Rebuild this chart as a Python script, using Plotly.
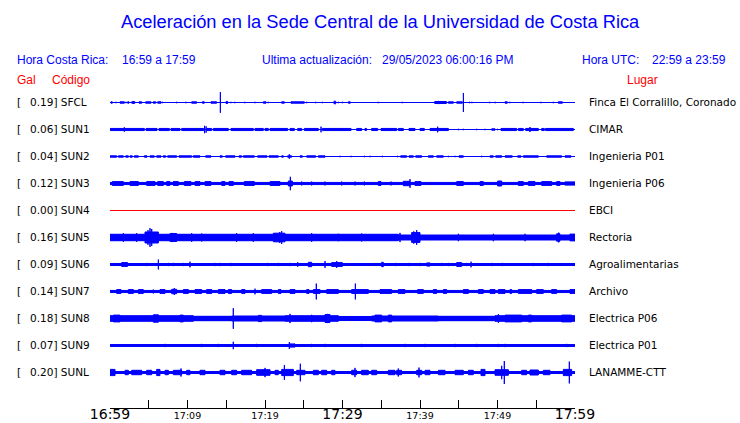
import plotly.graph_objects as go

# ---------------- data ----------------
codes = ["SFCL", "SUN1", "SUN2", "SUN3", "SUN4", "SUN5", "SUN6", "SUN7", "SUN8", "SUN9", "SUNL"]
places = ["Finca El Corralillo, Coronado", "CIMAR", "Ingenieria P01", "Ingenieria P06", "EBCI",
          "Rectoria", "Agroalimentarias", "Archivo", "Electrica P06", "Electrica P01", "LANAMME-CTT"]
gal = [0.19, 0.06, 0.04, 0.12, 0.00, 0.16, 0.09, 0.14, 0.18, 0.07, 0.20]
trace_colors = ["blue", "blue", "blue", "blue", "red", "blue", "blue", "blue", "blue", "blue", "blue"]

# continuous background amplitude of each record (Gal, half width)
base_amp = [0.0, 0.0, 0.0, 0.026, 0.0, 0.05, 0.025, 0.026, 0.04, 0.024, 0.025]

# bursts: [start minute, end minute, half amplitude in Gal] (minutes after 16:59)
sfcl = [[0.13, 0.3, 0.02], [0.77, 0.77, 0.02], [1.29, 1.85, 0.02], [2.06, 2.06, 0.02], [2.28, 2.45, 0.02],
        [2.8, 3.23, 0.02], [3.0, 3.0, 0.03], [3.74, 4.09, 0.02], [4.6, 5.29, 0.02], [5.59, 5.89, 0.02],
        [6.15, 6.58, 0.02], [6.75, 6.75, 0.02], [8.6, 8.6, 0.02], [9.8, 9.8, 0.02], [10.54, 11.18, 0.02],
        [11.91, 12.17, 0.02], [13.03, 13.76, 0.02], [14.24, 14.24, 0.18], [14.97, 15.18, 0.025],
        [15.6, 15.6, 0.02], [16.1, 16.1, 0.02], [17.4, 17.4, 0.02], [18.7, 18.7, 0.02], [19.78, 20.13, 0.02],
        [20.4, 20.4, 0.02], [22.15, 22.5, 0.02], [23.35, 25.08, 0.02], [25.38, 25.38, 0.02],
        [26.54, 26.54, 0.02], [27.4, 27.4, 0.02], [28.9, 29.12, 0.03], [29.46, 29.46, 0.02],
        [29.98, 29.98, 0.02], [30.75, 31.0, 0.02], [34.6, 34.6, 0.02], [37.7, 37.7, 0.02],
        [41.9, 43.4, 0.025], [42.4, 42.4, 0.035], [43.66, 44.3, 0.02], [44.73, 45.46, 0.02],
        [45.6, 45.6, 0.167], [46.4, 46.4, 0.02], [46.7, 46.7, 0.02], [49.0, 49.0, 0.02], [49.7, 49.7, 0.02],
        [50.97, 51.27, 0.02], [51.6, 51.6, 0.02], [53.3, 53.3, 0.02], [55.6, 55.6, 0.02],
        [57.2, 57.2, 0.02], [57.85, 58.37, 0.02]]

sun1 = [[0.0, 4.43, 0.026], [4.65, 6.06, 0.026], [6.32, 7.66, 0.026], [7.87, 9.03, 0.026],
        [9.25, 12.09, 0.026], [12.47, 13.12, 0.026], [13.33, 15.27, 0.026], [15.61, 18.49, 0.026],
        [18.71, 19.78, 0.026], [20.0, 20.43, 0.026], [20.65, 22.92, 0.026], [23.23, 23.78, 0.026],
        [24.22, 24.73, 0.026], [25.08, 26.88, 0.026], [27.4, 31.1, 0.026], [31.83, 32.47, 0.026],
        [32.9, 33.1, 0.026], [33.76, 34.54, 0.026], [34.97, 36.99, 0.026], [37.2, 37.85, 0.026],
        [38.58, 39.35, 0.026], [40.0, 40.56, 0.026], [41.29, 43.66, 0.026], [44.95, 44.95, 0.02],
        [45.59, 45.59, 0.02], [47.31, 47.31, 0.02], [48.39, 48.39, 0.02], [49.25, 49.68, 0.02],
        [50.0, 50.0, 0.02], [50.45, 52.47, 0.026], [52.69, 53.33, 0.026], [53.63, 55.27, 0.026],
        [55.7, 56.04, 0.026], [56.2, 59.78, 0.026],
        [1.85, 1.85, 0.045], [12.2, 12.2, 0.07], [12.4, 12.4, 0.06], [27.23, 27.23, 0.055],
        [42.28, 42.28, 0.055], [54.19, 54.19, 0.05]]

sun2 = [[0.0, 0.86, 0.02], [1.08, 1.72, 0.02], [2.02, 2.37, 0.02], [2.58, 2.88, 0.02], [3.14, 3.66, 0.02],
        [4.43, 4.77, 0.02], [5.16, 5.72, 0.02], [6.02, 6.58, 0.02], [6.88, 7.18, 0.02], [7.44, 8.6, 0.02],
        [8.9, 10.54, 0.02], [10.75, 11.61, 0.02], [12.34, 13.03, 0.02], [14.19, 14.49, 0.02],
        [14.92, 16.13, 0.02], [16.65, 16.99, 0.02], [17.2, 18.62, 0.02], [19.05, 20.26, 0.02],
        [20.52, 21.72, 0.02], [22.15, 22.37, 0.02], [22.92, 23.44, 0.02], [23.14, 23.14, 0.045],
        [24.52, 24.82, 0.02], [25.38, 26.54, 0.02], [26.88, 27.74, 0.02], [29.68, 29.68, 0.02],
        [31.1, 31.1, 0.02], [32.82, 32.82, 0.02], [33.55, 33.55, 0.02], [35.14, 35.14, 0.02],
        [37.12, 37.12, 0.02], [37.5, 38.28, 0.02], [38.58, 39.14, 0.02], [39.44, 40.22, 0.02],
        [41.08, 41.72, 0.02], [42.15, 43.01, 0.02], [43.66, 43.66, 0.02], [44.52, 44.52, 0.02],
        [45.03, 45.59, 0.02], [47.96, 47.96, 0.02], [49.03, 49.46, 0.02], [49.76, 50.54, 0.02],
        [50.97, 51.91, 0.02], [52.6, 53.03, 0.02], [53.33, 55.27, 0.02], [56.34, 58.28, 0.02],
        [58.71, 59.48, 0.02]]

sun3 = [[0.3, 1.72, 0.04], [2.58, 3.66, 0.04], [4.73, 5.81, 0.04], [6.15, 6.88, 0.04], [7.31, 7.74, 0.04],
        [8.17, 8.82, 0.04], [9.59, 10.45, 0.04], [10.97, 11.61, 0.04], [12.26, 13.03, 0.04],
        [14.41, 14.84, 0.04], [15.35, 15.91, 0.04], [17.33, 18.62, 0.04], [20.65, 21.94, 0.04],
        [23.01, 23.53, 0.05], [23.27, 23.27, 0.12], [24.73, 24.73, 0.04], [26.02, 26.02, 0.04],
        [27.74, 27.74, 0.04], [29.89, 29.89, 0.04], [31.61, 31.61, 0.04], [32.82, 32.82, 0.04],
        [34.62, 34.97, 0.04], [36.26, 36.26, 0.04], [37.85, 38.71, 0.045], [38.71, 38.71, 0.08],
        [39.35, 40.13, 0.04], [44.73, 45.59, 0.04], [47.74, 48.17, 0.04], [50.02, 50.54, 0.05],
        [52.69, 53.33, 0.04], [53.98, 54.84, 0.04], [55.7, 56.99, 0.04], [57.63, 58.06, 0.04],
        [58.71, 60.0, 0.035]]

sun4 = []

sun5 = [[0.0, 37.2, 0.062], [1.72, 1.72, 0.08], [3.44, 3.44, 0.08], [4.52, 6.24, 0.1],
        [5.16, 5.16, 0.165], [5.38, 5.38, 0.15], [4.9, 4.9, 0.13], [7.74, 8.6, 0.075], [8.0, 8.0, 0.085],
        [10.54, 10.54, 0.08], [11.83, 11.83, 0.075], [16.34, 16.34, 0.08], [18.49, 18.49, 0.08],
        [21.08, 22.58, 0.08], [22.15, 22.15, 0.115], [21.9, 21.9, 0.1], [26.02, 26.02, 0.08],
        [29.46, 29.46, 0.07], [32.47, 32.47, 0.075], [37.42, 37.42, 0.085], [38.92, 40.0, 0.09],
        [39.57, 39.57, 0.13], [39.2, 39.2, 0.11], [44.95, 44.95, 0.07], [49.46, 49.46, 0.07],
        [53.55, 53.55, 0.07], [57.63, 58.06, 0.07], [57.9, 57.9, 0.09], [59.35, 60.0, 0.065]]

sun6 = [[1.5, 2.28, 0.04], [4.73, 4.73, 0.035], [6.24, 6.24, 0.09], [7.53, 7.53, 0.035], [8.17, 8.17, 0.035],
        [9.46, 9.46, 0.035], [10.32, 10.32, 0.055], [13.55, 13.55, 0.035], [14.19, 14.19, 0.035],
        [15.61, 15.61, 0.035], [20.34, 20.34, 0.035], [21.72, 21.72, 0.035], [23.23, 23.23, 0.035],
        [24.22, 24.22, 0.045], [25.59, 26.02, 0.045], [27.74, 27.74, 0.065], [28.6, 29.98, 0.04],
        [29.25, 29.25, 0.065], [35.05, 35.27, 0.045], [36.86, 36.86, 0.035], [38.58, 38.58, 0.035],
        [40.0, 40.0, 0.035], [40.86, 41.29, 0.035], [42.8, 42.8, 0.035], [43.66, 43.66, 0.035],
        [44.73, 45.38, 0.04], [46.02, 46.02, 0.035], [46.58, 46.58, 0.055], [49.25, 49.25, 0.035],
        [50.62, 50.62, 0.035], [54.62, 54.62, 0.035], [56.56, 56.56, 0.035]]

sun7 = [[0.86, 1.42, 0.04], [2.37, 3.01, 0.04], [3.66, 4.3, 0.04], [5.59, 5.59, 0.04], [6.45, 7.1, 0.04],
        [7.96, 8.6, 0.045], [8.3, 8.3, 0.065], [9.46, 10.11, 0.04], [10.97, 11.83, 0.04],
        [12.47, 13.12, 0.04], [13.98, 14.84, 0.04], [15.27, 15.7, 0.04], [16.99, 17.42, 0.04],
        [18.71, 18.71, 0.055], [19.57, 20.86, 0.04], [21.72, 22.06, 0.04], [23.23, 23.87, 0.04],
        [25.38, 25.68, 0.04], [26.24, 27.1, 0.04], [26.62, 26.62, 0.14], [27.96, 29.46, 0.04],
        [31.18, 33.33, 0.04], [31.66, 31.66, 0.14], [34.84, 36.34, 0.04], [37.2, 38.06, 0.04],
        [39.7, 40.43, 0.04], [41.72, 42.15, 0.04], [43.01, 43.44, 0.04], [45.59, 46.24, 0.04],
        [47.53, 48.17, 0.04], [49.03, 49.68, 0.04], [50.11, 50.97, 0.04], [51.61, 51.83, 0.04],
        [52.69, 54.41, 0.04], [55.05, 55.91, 0.04], [56.99, 57.63, 0.04], [59.35, 60.0, 0.04]]

sun8 = [[0.0, 10.75, 0.055], [10.75, 15.7, 0.045], [15.7, 22.58, 0.05], [22.58, 29.46, 0.055],
        [29.46, 33.76, 0.042], [33.76, 42.37, 0.05], [42.37, 49.68, 0.045], [49.68, 60.0, 0.055],
        [0.43, 1.29, 0.065], [5.59, 6.24, 0.07], [9.03, 9.46, 0.065], [15.91, 15.91, 0.18],
        [19.14, 19.57, 0.06], [23.23, 23.23, 0.085], [26.02, 26.02, 0.07], [27.74, 28.39, 0.075],
        [28.09, 28.09, 0.085], [34.19, 35.05, 0.065], [35.91, 36.34, 0.065], [50.11, 50.11, 0.08],
        [50.97, 53.12, 0.065], [53.98, 54.41, 0.065], [58.28, 59.57, 0.065]]

sun9 = [[7.1, 7.1, 0.035], [11.83, 11.83, 0.035], [13.98, 13.98, 0.035], [15.91, 15.91, 0.07],
        [18.92, 18.92, 0.035], [23.14, 23.14, 0.065], [23.23, 23.87, 0.035], [26.02, 26.02, 0.035],
        [27.74, 27.74, 0.035], [32.47, 32.47, 0.035], [38.06, 38.06, 0.035], [40.65, 40.65, 0.035],
        [44.52, 44.52, 0.035], [47.31, 47.31, 0.035], [50.11, 50.11, 0.035], [50.97, 50.97, 0.035],
        [58.92, 58.92, 0.035]]

sunl = [[0.0, 0.65, 0.06], [1.94, 2.37, 0.045], [2.8, 4.09, 0.045], [4.73, 5.38, 0.045], [6.02, 6.45, 0.06],
        [7.1, 7.53, 0.045], [8.17, 9.25, 0.045], [9.16, 9.16, 0.075], [9.89, 10.32, 0.045],
        [11.61, 12.26, 0.045], [14.19, 14.84, 0.045], [15.7, 16.34, 0.045], [16.99, 18.28, 0.045],
        [18.92, 20.65, 0.055], [20.0, 20.0, 0.085], [21.29, 21.72, 0.045], [22.15, 23.66, 0.06],
        [22.5, 22.5, 0.13], [24.09, 25.16, 0.045], [24.56, 24.56, 0.155], [26.24, 26.88, 0.045],
        [27.31, 27.96, 0.045], [28.6, 29.03, 0.045], [31.18, 31.83, 0.045], [31.61, 31.61, 0.085],
        [32.47, 33.33, 0.045], [33.76, 34.41, 0.045], [35.91, 36.77, 0.045], [36.99, 37.63, 0.045],
        [37.2, 37.2, 0.075], [39.57, 40.22, 0.045], [39.87, 39.87, 0.09], [40.65, 41.29, 0.045],
        [42.37, 43.23, 0.045], [44.52, 45.59, 0.045], [46.24, 46.88, 0.045], [47.87, 48.39, 0.06],
        [49.68, 51.4, 0.055], [50.54, 50.54, 0.12], [50.88, 50.88, 0.2], [53.12, 53.76, 0.045],
        [54.19, 55.27, 0.05], [55.91, 56.77, 0.045], [58.49, 59.57, 0.06], [59.27, 59.27, 0.19]]

bursts = [sfcl, sun1, sun2, sun3, sun4, sun5, sun6, sun7, sun8, sun9, sunl]

# time axis (minutes after 16:59)
tick_minutes = [0, 5, 10, 15, 20, 25, 30, 35, 40, 45, 50, 55, 60]
tick_labels = ["16:59", "", "17:09", "", "17:19", "", "17:29", "", "17:39", "", "17:49", "", "17:59"]
big_labels = ["16:59", "17:29", "17:59"]

row_step = 0.45  # Gal between record baselines
t_start, t_end = 0, 60

# ---------------- figure ----------------
W, H = 740, 423
ML, MR, MT, MB = 110, 165, 88, 15
PX_PER_GAL = 60.0
plot_h = H - MT - MB
y_top = 14.5 / PX_PER_GAL
y_bot = y_top - plot_h / PX_PER_GAL
STROKE = 1.0
half_stroke_gal = 0.5 * STROKE / PX_PER_GAL


def px_x(px):
    return (px - ML) / (W - ML - MR)


def px_y(py):
    return (H - MB - py) / plot_h


fig = go.Figure()

for i, code in enumerate(codes):
    c = -i * row_step
    col = trace_colors[i]
    xs, ys = [], []
    blocks = list(bursts[i])
    if base_amp[i] > 0:
        blocks = [[t_start, t_end, base_amp[i]]] + blocks
    for s, e, a in blocks:
        h = max(a - half_stroke_gal, 0.0)
        xs += [s, e, e, s, s, None]
        ys += [c - h, c - h, c + h, c + h, c - h, None]
    # centre line
    fig.add_trace(go.Scatter(x=[t_start, t_end], y=[c, c], mode="lines",
                             line=dict(color=col, width=1), hoverinfo="skip", showlegend=False))
    if xs:
        fig.add_trace(go.Scatter(x=xs, y=ys, mode="lines", fill="toself", fillcolor=col,
                                 line=dict(color=col, width=STROKE), hoverinfo="skip", showlegend=False))

ticktext = []
for lab in tick_labels:
    if lab in big_labels:
        ticktext.append('<span style="font-size:14px">' + lab + '</span>')
    else:
        ticktext.append(lab)

fig.update_layout(
    width=W, height=H,
    margin=dict(l=ML, r=MR, t=MT, b=MB, autoexpand=False),
    paper_bgcolor="white", plot_bgcolor="white",
    xaxis=dict(range=[t_start, t_end], tickmode="array", tickvals=tick_minutes, ticktext=ticktext,
               ticks="inside", ticklen=8, tickcolor="black", tickwidth=1, ticklabelstandoff=-1,
               showline=True, linecolor="black", linewidth=1, showgrid=False, zeroline=False,
               tickfont=dict(family="DejaVu Sans", size=9.5, color="black"), automargin=False,
               fixedrange=True),
    yaxis=dict(range=[y_bot, y_top], visible=False, fixedrange=True),
)

ann = []
BLUE = "#0000ff"
RED = "#ff0000"
ann.append(dict(text="Aceleración en la Sede Central de la Universidad de Costa Rica", x=px_x(380), y=px_y(22),
                xanchor="center", font=dict(family="Liberation Sans", size=18.3, color=BLUE)))
hdr = [("Hora Costa Rica:", 15), ("16:59 a 17:59", 120), ("Ultima actualización:", 260),
       ("29/05/2023 06:00:16 PM", 380), ("Hora UTC:", 580), ("22:59 a 23:59", 650)]
for txt, x in hdr:
    ann.append(dict(text=txt, x=px_x(x), y=px_y(60), xanchor="left",
                    font=dict(family="Liberation Sans", size=12, color=BLUE)))
for txt, x in [("Gal", 15), ("Código", 50), ("Lugar", 625)]:
    ann.append(dict(text=txt, x=px_x(x), y=px_y(80), xanchor="left",
                    font=dict(family="Liberation Sans", size=12, color=RED)))

for i, code in enumerate(codes):
    py = 102 + 27 * i
    f = dict(family="DejaVu Sans", size=10.5, color="black")
    ann.append(dict(text="[", x=px_x(15), y=px_y(py), xanchor="left", font=f))
    ann.append(dict(text=f"{gal[i]:.2f}] {code}", x=px_x(28), y=px_y(py), xanchor="left", font=f))
    ann.append(dict(text=places[i], x=px_x(587), y=px_y(py), xanchor="left", font=f))

for a in ann:
    a.update(xref="paper", yref="paper", yanchor="middle", showarrow=False)
fig.update_layout(annotations=ann)

fig.write_html("out.html", config={"displayModeBar": False},
               post_script="document.body.style.margin='0';document.body.style.overflow='hidden';")
